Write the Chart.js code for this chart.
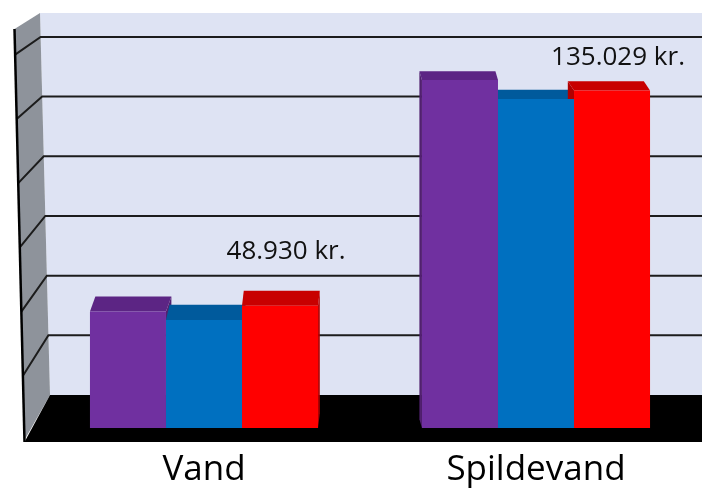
<!DOCTYPE html>
<html>
<head>
<meta charset="utf-8">
<script src="https://cdn.jsdelivr.net/npm/chart.js@4.4.1/dist/chart.umd.min.js"></script>
<style>
  html, body { margin: 0; padding: 0; background: #fff; overflow: hidden; }
  #wrap { width: 702px; height: 512px; }
</style>
</head>
<body>
<div id="wrap"><canvas id="bar-chart"></canvas></div>
<script>
const categories = ['Vand', 'Spildevand'];
const lilla = [46600, 139200];
const blaa = [43200, 131600];
const roed = [48930, 135029];
const yTicks = [0, 25000, 50000, 75000, 100000, 125000, 150000];
const yMax = 160000;

const frontColors = ['#7030a0', '#0070c0', '#ff0000'];
const topColors = ['#5c2584', '#005a9c', '#c80000'];
const sideColors = ['#51206f', '#004c86', '#b00000'];

// dansk talformat: 48.930
function kr(v) {
  return String(Math.round(v)).replace(/\B(?=(\d{3})+(?!\d))/g, '.') + ' kr.';
}

// 3D-rummet: bagvaeg, sidevaeg, gulv og gitterlinjer
const room = {
  id: 'room',
  beforeDatasetsDraw(chart) {
    const ctx = chart.ctx;
    const ca = chart.chartArea;
    const ys = chart.scales.y;
    const base = ys.getPixelForValue(0);
    const floorBack = base - 33;
    const floorFront = base + 14;
    const backY = v => floorBack - (base - ys.getPixelForValue(v)) * 0.955;
    const wallTop = backY(yMax);
    const wallX = y => ca.left + 2 + 10 * (y - wallTop) / (floorBack - wallTop);
    const drop = y => 16 + 29 * (y - wallTop) / (floorBack - wallTop);
    const front = y => [wallX(y) - 25.5, y + drop(y)];

    ctx.save();
    // bagvaeg
    ctx.fillStyle = '#dee3f3';
    ctx.beginPath();
    ctx.moveTo(wallX(wallTop), wallTop);
    ctx.lineTo(ca.right, wallTop);
    ctx.lineTo(ca.right, floorBack);
    ctx.lineTo(wallX(floorBack), floorBack);
    ctx.closePath();
    ctx.fill();

    // sidevaeg
    ctx.fillStyle = '#8e939b';
    ctx.beginPath();
    ctx.moveTo(wallX(wallTop), wallTop);
    ctx.lineTo(...front(wallTop));
    ctx.lineTo(...front(floorBack));
    ctx.lineTo(wallX(floorBack), floorBack);
    ctx.closePath();
    ctx.fill();

    // gulv
    ctx.fillStyle = '#000';
    ctx.beginPath();
    ctx.moveTo(wallX(floorBack), floorBack);
    ctx.lineTo(ca.right, floorBack);
    ctx.lineTo(ca.right, floorFront);
    ctx.lineTo(front(floorBack)[0], floorFront);
    ctx.closePath();
    ctx.fill();

    // gitterlinjer
    ctx.strokeStyle = '#1c1c1c';
    ctx.lineWidth = 2;
    yTicks.forEach(v => {
      if (v === 0) return;
      const y = backY(v);
      ctx.beginPath();
      ctx.moveTo(ca.right, y);
      ctx.lineTo(wallX(y), y);
      ctx.lineTo(...front(y));
      ctx.stroke();
    });

    // forkant af sidevaeg
    ctx.lineWidth = 2.5;
    ctx.strokeStyle = '#000';
    ctx.beginPath();
    ctx.moveTo(...front(wallTop));
    ctx.lineTo(front(floorBack)[0], floorFront);
    ctx.stroke();

    // toppe og sider paa soejlerne
    const vx = ca.left + 0.475 * (ca.right - ca.left);
    chart.data.datasets.forEach((ds, i) => {
      chart.getDatasetMeta(i).data.forEach(el => {
        const xl = el.x - el.width / 2;
        const xr = el.x + el.width / 2;
        const yt = el.y;
        const d = 6.7 + 0.0267 * yt;
        const dx = (vx - el.x) * 0.024;
        const sx = dx > 0 ? xr : xl;
        ctx.fillStyle = sideColors[i];
        ctx.beginPath();
        ctx.moveTo(sx, yt);
        ctx.lineTo(sx + dx, yt - d);
        ctx.lineTo(sx + dx, el.base - d);
        ctx.lineTo(sx, el.base);
        ctx.closePath();
        ctx.fill();
        ctx.fillStyle = topColors[i];
        ctx.beginPath();
        ctx.moveTo(xl, yt);
        ctx.lineTo(xr, yt);
        ctx.lineTo(xr + dx, yt - d);
        ctx.lineTo(xl + dx, yt - d);
        ctx.closePath();
        ctx.fill();
      });
    });
    ctx.restore();
  },
  afterDatasetsDraw(chart) {
    const ctx = chart.ctx;
    ctx.save();
    ctx.font = '26px "Open Sans"';
    ctx.fillStyle = '#111';
    ctx.textAlign = 'center';
    ctx.textBaseline = 'middle';
    chart.getDatasetMeta(2).data.forEach((el, j) => {
      const d = 6.7 + 0.0267 * el.y;
      ctx.fillText(kr(roed[j]), el.x + 6, el.y - d - 2.65 * d);
    });
    ctx.restore();
  }
};

new Chart(document.getElementById('bar-chart'), {
  type: 'bar',
  data: {
    labels: categories,
    datasets: [
      { label: 'Lilla', data: lilla },
      { label: 'Blå', data: blaa },
      { label: 'Rød', data: roed }
    ].map((ds, i) => Object.assign(ds, {
      backgroundColor: frontColors[i],
      borderWidth: 0,
      barPercentage: 1,
      categoryPercentage: 0.687
    }))
  },
  options: {
    responsive: true,
    maintainAspectRatio: false,
    animation: false,
    layout: {
      padding: { left: 38, right: 0, top: 28, bottom: 0 }
    },
    scales: {
      x: {
        grid: { display: false, drawTicks: false },
        border: { display: false },
        ticks: {
          padding: 21,
          color: '#000',
          font: { family: 'Open Sans', size: 35, lineHeight: 1.2 }
        }
      },
      y: {
        display: false,
        min: 0,
        max: yMax,
        ticks: { stepSize: 25000 }
      }
    },
    plugins: {
      legend: { display: false },
      tooltip: { enabled: false }
    }
  },
  plugins: [room]
});
</script>
</body>
</html>
